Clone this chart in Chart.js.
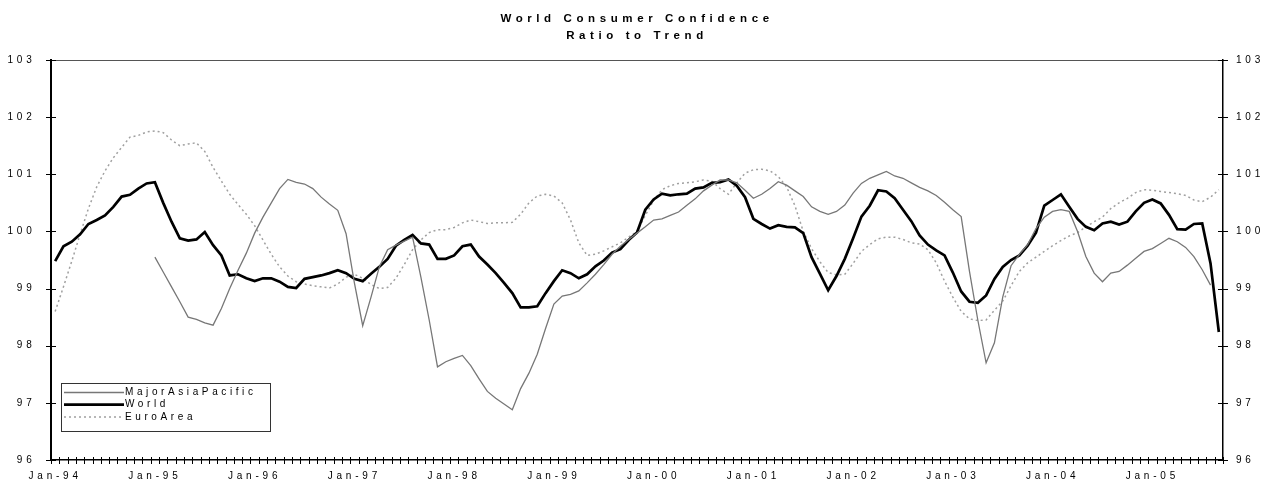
<!DOCTYPE html>
<html>
<head>
<meta charset="utf-8">
<title>World Consumer Confidence</title>
<script src="https://cdn.jsdelivr.net/npm/chart.js@4.4.0/dist/chart.umd.min.js"></script>
<style>
  html, body { margin: 0; background: #fff; }
  #wrap { width: 1276px; height: 485px; }
</style>
</head>
<body>
<div id="wrap"><canvas id="chart" width="1276" height="485"></canvas></div>
<script>
// Monthly series, Jan-94 .. Sep-05 (141 months)
const monthNames = ['Jan', 'Feb', 'Mar', 'Apr', 'May', 'Jun', 'Jul', 'Aug', 'Sep', 'Oct', 'Nov', 'Dec'];
const firstYear = 1994;
const monthCount = 141;

const tickLabels = ['Jan-94', 'Jan-95', 'Jan-96', 'Jan-97', 'Jan-98', 'Jan-99',
  'Jan-00', 'Jan-01', 'Jan-02', 'Jan-03', 'Jan-04', 'Jan-05'];
const yTicks = [96, 97, 98, 99, 100, 101, 102, 103];

const seriesNames = ['MajorAsiaPacific', 'World', 'EuroArea'];

const asiaPacific = [
  null, null, null, null, null, null, null, null, null, null, null, null,
  99.55, 99.29, 99.03, 98.77, 98.50, 98.46, 98.40, 98.36, 98.65, 99.00, 99.32, 99.62,
  99.97, 100.25, 100.50, 100.75, 100.91, 100.86, 100.83, 100.75, 100.60, 100.48, 100.37, 99.96,
  99.10, 98.35, 98.85, 99.38, 99.68, 99.76, 99.83, 99.90, 99.20, 98.45, 97.63, 97.72,
  97.78, 97.83, 97.65, 97.42, 97.20, 97.08, 96.98, 96.88, 97.25, 97.52, 97.85, 98.30,
  98.73, 98.87, 98.90, 98.96, 99.10, 99.25, 99.42, 99.60, 99.74, 99.86, 99.97, 100.08,
  100.20, 100.22, 100.28, 100.34, 100.46, 100.57, 100.71, 100.81, 100.90, 100.90, 100.85, 100.72,
  100.58, 100.65, 100.75, 100.87, 100.81, 100.71, 100.61, 100.43, 100.35, 100.30, 100.35, 100.46,
  100.67, 100.84, 100.93, 100.99, 101.05, 100.97, 100.93, 100.85, 100.77, 100.71, 100.63, 100.51,
  100.38, 100.26, 99.30, 98.45, 97.70, 98.05, 98.85, 99.40, 99.60, 99.77, 100.05, 100.25,
  100.35, 100.38, 100.35, 100.00, 99.56, 99.27, 99.12, 99.27, 99.30, 99.41, 99.53, 99.65,
  99.70, 99.79, 99.88, 99.82, 99.72, 99.56, 99.33, 99.06, null
];

const world = [
  99.48, 99.74, 99.82, 99.95, 100.13, 100.20, 100.28, 100.43, 100.61, 100.64, 100.75, 100.84,
  100.86, 100.50, 100.17, 99.88, 99.84, 99.86, 99.99, 99.76, 99.58, 99.23, 99.25, 99.18,
  99.13, 99.18, 99.18, 99.12, 99.03, 99.01, 99.17, 99.20, 99.23, 99.27, 99.32, 99.27,
  99.17, 99.13, 99.26, 99.38, 99.52, 99.75, 99.85, 99.94, 99.79, 99.77, 99.52, 99.52,
  99.58, 99.74, 99.77, 99.56, 99.42, 99.27, 99.10, 98.92, 98.67, 98.67, 98.69, 98.92,
  99.13, 99.32, 99.27, 99.18, 99.25, 99.39, 99.49, 99.63, 99.69, 99.85, 99.98, 100.38,
  100.56, 100.66, 100.63, 100.65, 100.66, 100.75, 100.77, 100.85, 100.86, 100.91, 100.80, 100.60,
  100.22, 100.13, 100.05, 100.11, 100.08, 100.07, 99.97, 99.55, 99.26, 98.97, 99.22, 99.52,
  99.88, 100.26, 100.45, 100.72, 100.70, 100.58, 100.38, 100.18, 99.93, 99.77, 99.67, 99.58,
  99.28, 98.95, 98.77, 98.75, 98.88, 99.17, 99.38, 99.50, 99.58, 99.75, 99.98, 100.45,
  100.55, 100.65, 100.43, 100.22, 100.08, 100.02, 100.14, 100.17, 100.12, 100.17, 100.35, 100.50,
  100.56, 100.49, 100.29, 100.04, 100.03, 100.13, 100.14, 99.44, 98.24
];

const euroArea = [
  98.60, 99.03, 99.48, 99.95, 100.40, 100.78, 101.06, 101.29, 101.47, 101.65, 101.68, 101.74,
  101.76, 101.73, 101.60, 101.50, 101.53, 101.55, 101.40, 101.12, 100.88, 100.65, 100.47, 100.30,
  100.10, 99.85, 99.60, 99.38, 99.22, 99.12, 99.08, 99.05, 99.03, 99.01, 99.08, 99.20,
  99.25, 99.18, 99.07, 99.00, 99.02, 99.18, 99.42, 99.68, 99.85, 99.98, 100.03, 100.03,
  100.07, 100.15, 100.20, 100.17, 100.14, 100.15, 100.15, 100.16, 100.30, 100.50, 100.62, 100.65,
  100.62, 100.50, 100.20, 99.80, 99.58, 99.60, 99.66, 99.73, 99.80, 99.90, 100.00, 100.28,
  100.54, 100.73, 100.80, 100.84, 100.85, 100.87, 100.90, 100.88, 100.75, 100.65, 100.85, 101.02,
  101.08, 101.09, 101.06, 100.96, 100.78, 100.45, 100.00, 99.70, 99.47, 99.28, 99.24, 99.25,
  99.44, 99.65, 99.77, 99.87, 99.90, 99.90, 99.86, 99.80, 99.78, 99.68, 99.45, 99.13,
  98.85, 98.60, 98.47, 98.44, 98.45, 98.62, 98.78, 99.05, 99.30, 99.45, 99.55, 99.65,
  99.75, 99.84, 99.92, 99.98, 100.08, 100.17, 100.25, 100.40, 100.50, 100.58, 100.68, 100.73,
  100.72, 100.70, 100.68, 100.66, 100.63, 100.55, 100.52, 100.60, 100.73
];

const months = [];
for (let i = 0; i < monthCount; i++) {
  const y = firstYear + Math.floor(i / 12);
  months.push(monthNames[i % 12] + '-' + String(y % 100).padStart(2, '0'));
}

const FONT = '"Liberation Sans", Arial, sans-serif';

// Excel-like cross tick marks, top border, title and boxed legend
const excelFrame = {
  id: 'excelFrame',
  beforeDraw(chart) {
    chart.ctx.letterSpacing = '3.8px';
  },
  afterDraw(chart) {
    const ctx = chart.ctx;
    const area = chart.chartArea;
    const xs = chart.scales.x;
    const yl = chart.scales.y;
    ctx.save();
    ctx.letterSpacing = '0px';

    // top border
    ctx.strokeStyle = '#555';
    ctx.lineWidth = 1;
    ctx.beginPath();
    ctx.moveTo(area.left, area.top + 0.5);
    ctx.lineTo(area.right, area.top + 0.5);
    ctx.stroke();

    // x ticks at category boundaries
    ctx.strokeStyle = '#000';
    ctx.lineWidth = 1;
    const step = xs.getPixelForValue(1) - xs.getPixelForValue(0);
    const x0 = xs.getPixelForValue(0) - step / 2;
    ctx.beginPath();
    for (let i = 0; i <= months.length; i++) {
      const px = Math.round(x0 + i * step) + 0.5;
      ctx.moveTo(px, area.bottom - 3);
      ctx.lineTo(px, area.bottom + 4);
    }
    // y ticks on both axes
    yTicks.forEach(v => {
      const py = Math.round(yl.getPixelForValue(v)) + 0.5;
      ctx.moveTo(area.left - 5, py);
      ctx.lineTo(area.left + 5, py);
      ctx.moveTo(area.right - 5, py);
      ctx.lineTo(area.right + 5, py);
    });
    ctx.stroke();

    // title
    const cx = (area.left + area.right) / 2;
    ctx.fillStyle = '#000';
    ctx.font = 'bold 11.5px ' + FONT;
    ctx.textAlign = 'center';
    ctx.textBaseline = 'middle';
    ctx.letterSpacing = '4.6px';
    ctx.fillText('World Consumer Confidence', cx, 19);
    ctx.fillText('Ratio to Trend', cx, 35.5);

    // legend box
    const lx = area.left + 10;
    const ly = area.bottom - 77;
    const lw = 209;
    const lh = 48;
    ctx.fillStyle = '#fff';
    ctx.fillRect(lx, ly, lw, lh);
    ctx.strokeStyle = '#333';
    ctx.lineWidth = 1;
    ctx.strokeRect(lx + 0.5, ly + 0.5, lw, lh);
    ctx.font = '10px ' + FONT;
    ctx.textAlign = 'left';
    ctx.letterSpacing = '3.6px';
    chart.data.datasets.forEach((ds, k) => {
      const ry = ly + 9.5 + k * 12.2;
      ctx.save();
      ctx.strokeStyle = ds.borderColor;
      ctx.lineWidth = ds.borderWidth;
      ctx.setLineDash(ds.borderDash || []);
      ctx.beginPath();
      ctx.moveTo(lx + 3, ry);
      ctx.lineTo(lx + 63, ry);
      ctx.stroke();
      ctx.restore();
      ctx.fillStyle = '#000';
      ctx.fillText(ds.label, lx + 64, ry);
    });
    ctx.restore();
  }
};

new Chart(document.getElementById('chart'), {
  type: 'line',
  data: {
    labels: months,
    datasets: [
      { label: seriesNames[0], data: asiaPacific, borderColor: '#777777', borderWidth: 1.3 },
      { label: seriesNames[1], data: world, borderColor: '#000000', borderWidth: 2.7 },
      { label: seriesNames[2], data: euroArea, borderColor: '#a0a0a0', borderWidth: 1.5, borderDash: [2, 3] }
    ]
  },
  options: {
    responsive: false,
    animation: false,
    layout: { padding: { top: 60 } },
    elements: { point: { radius: 0 }, line: { tension: 0 } },
    plugins: { legend: { display: false }, title: { display: false }, tooltip: { enabled: false } },
    scales: {
      x: {
        offset: true,
        grid: { display: false, drawTicks: false },
        border: { display: true, color: '#000', width: 1.5 },
        afterFit(scale) { scale.height = 25; },
        ticks: {
          autoSkip: false, maxRotation: 0, padding: 10,
          color: '#000', font: { family: FONT, size: 10 },
          callback(value) {
            const lab = this.getLabelForValue(value);
            return tickLabels.includes(lab) ? lab : '';
          }
        }
      },
      y: {
        position: 'left', min: 96, max: 103,
        grid: { display: false, drawTicks: false },
        border: { display: true, color: '#000', width: 2 },
        afterFit(scale) { scale.width = 51; },
        ticks: { stepSize: 1, padding: 15.5, color: '#000', font: { family: FONT, size: 10 } }
      },
      y2: {
        position: 'right', min: 96, max: 103,
        grid: { display: false, drawTicks: false },
        border: { display: true, color: '#000', width: 1.5 },
        afterFit(scale) { scale.width = 53; },
        ticks: { stepSize: 1, padding: 13, color: '#000', font: { family: FONT, size: 10 } }
      }
    }
  },
  plugins: [excelFrame]
});
</script>
</body>
</html>
